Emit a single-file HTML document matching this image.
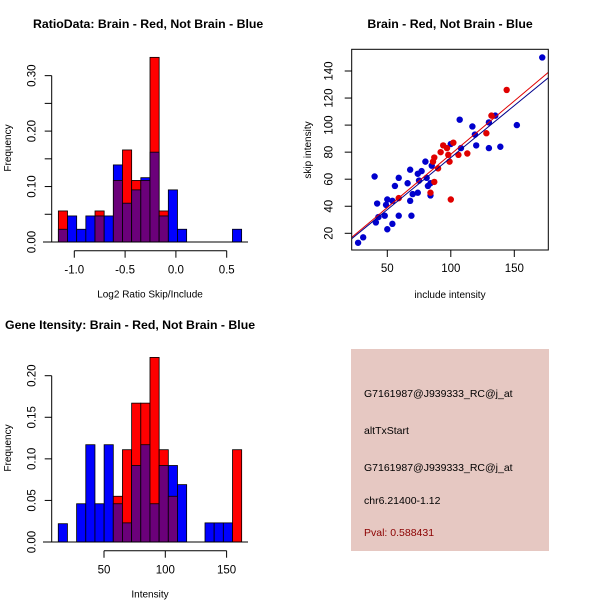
<!DOCTYPE html>
<html><head><meta charset="utf-8"><style>
html,body{margin:0;padding:0;background:#fff;width:600px;height:600px;overflow:hidden}
svg{display:block;font-family:"Liberation Sans",sans-serif}
</style></head><body>
<svg id="root" width="600" height="600" viewBox="0 0 600 600">
<rect width="600" height="600" fill="#fff"/>
<g id="p1"></g>
<g id="p2"></g>
<g id="p3"></g>
<g id="p4">
<rect x="351" y="349" width="198" height="202" fill="#e6c8c2"/>
<text x="364" y="397" font-size="10.5" fill="#000">G7161987@J939333_RC@j_at</text>
<text x="364" y="434" font-size="10.5" fill="#000">altTxStart</text>
<text x="364" y="471" font-size="10.5" fill="#000">G7161987@J939333_RC@j_at</text>
<text x="364" y="504" font-size="10.5" fill="#000">chr6.21400-1.12</text>
<text x="364" y="536" font-size="10.5" fill="#8b0000">Pval: 0.588431</text>
</g>
</svg>
<script>
// Ratio histogram data
const ratioStart = -1.157, ratioWidth = 0.0902;
const ratioRed  = [0.056,0,0,0,0.056,0,0.111,0.166,0.111,0.111,0.333,0.056,0,0,0,0,0,0,0,0];
const ratioBlue = [0.023,0.047,0.023,0.047,0.047,0.047,0.139,0.070,0.094,0.116,0.162,0.047,0.094,0.023,0,0,0,0,0,0.023];
const ratioYTicks = [0,0.05,0.10,0.15,0.20,0.25,0.30];
const ratioYLabels = ["0.00","","0.10","","0.20","","0.30"];
const ratioXTicks = [-1.0,-0.5,0.0,0.5];
const ratioXLabels = ["-1.0","-0.5","0.0","0.5"];
// Intensity histogram data
const intStart = 12.7, intWidth = 7.48;
const intRed  = [0,0,0,0,0,0,0.055,0.111,0.167,0.167,0.222,0.111,0.055,0,0,0,0,0,0,0.111];
const intBlue = [0.022,0,0.046,0.117,0.046,0.117,0.046,0.023,0.092,0.117,0.046,0.092,0.092,0.069,0,0,0.023,0.023,0.023,0];
const intYTicks = [0,0.05,0.10,0.15,0.20];
const intYLabels = ["0.00","0.05","0.10","0.15","0.20"];
const intXTicks = [50,100,150];
// Scatter data
const blueX = [27,31,40,41,42,43,48,49,50,50,54,54,56,59,59,66,68,68,69,70,74,74,75,77,80,81,82,84,84,85,100,107,108,117,119,120,130,130,135,139,152,172];
const blueY = [13,17,62,28,42,32,33,41,45,23,27,44,55,61,33,57,67,44,33,49,64,50,59,66,73,61,55,48,57,70,86,104,83,99,93,85,102,83,107,84,100,150];
const redX = [59,84,86,87,87,90,92,94,97,98,99,100,102,106,113,128,132,144];
const redY = [46,50,73,76,58,68,80,85,83,78,73,45,87,78,79,94,107,126];
const blueFit = [-0.92, 0.769];
const redFit = [-0.35, 0.788];
const scX = [50,100,150];
const scY = [20,40,60,80,100,120,140];

const NS="http://www.w3.org/2000/svg";
function mk(parent,tag,attrs,txt){const e=document.createElementNS(NS,tag);for(const k in attrs)e.setAttribute(k,attrs[k]);if(txt!==undefined)e.textContent=txt;parent.appendChild(e);return e;}

function hist(g,o){
  const sx=v=>o.x0+(v-o.xv0)*o.xs, sy=v=>o.y0-v*o.ys;
  for(let i=0;i<o.red.length;i++){
    const r=o.red[i], b=o.blue[i];
    const l=sx(o.start+i*o.w), wpx=o.w*o.xs;
    const hi=Math.max(r,b), lo=Math.min(r,b);
    if(hi>0){
      const c=r>=b?"#ff0000":"#0000ff";
      const e=mk(g,"rect",{x:l,y:sy(hi),width:wpx,height:sy(0)-sy(hi),fill:c,stroke:"#000","stroke-width":0.8});
      
      
    }
    if(lo>0){
      const e=mk(g,"rect",{x:l,y:sy(lo),width:wpx,height:sy(0)-sy(lo),fill:"#6b007a",stroke:"#000","stroke-width":0.8});
      
      
    }
  }
  mk(g,"line",{x1:o.bx1,x2:o.bx2,y1:o.y0,y2:o.y0,stroke:"#000"});
  const ya=mk(g,"g",{});
  
  
  const yt=o.yticks;
  mk(ya,"line",{x1:o.yax,x2:o.yax,y1:sy(yt[0]),y2:sy(yt[yt.length-1]),stroke:"#000"});
  yt.forEach((t,i)=>{mk(ya,"line",{x1:o.yax,x2:o.yax-7,y1:sy(t),y2:sy(t),stroke:"#000"});
    if(o.ylabels[i]){const tx=o.yax-16, ty=sy(t);mk(ya,"text",{x:tx,y:ty,"font-size":11.5,"text-anchor":"middle",transform:`rotate(-90 ${tx} ${ty})`},o.ylabels[i]);}});
  const xa=mk(g,"g",{});
  
  
  const xt=o.xticks;
  mk(xa,"line",{x1:sx(xt[0]),x2:sx(xt[xt.length-1]),y1:o.xay,y2:o.xay,stroke:"#000"});
  xt.forEach((t,i)=>{mk(xa,"line",{x1:sx(t),x2:sx(t),y1:o.xay,y2:o.xay+7,stroke:"#000"});
    mk(xa,"text",{x:sx(t),y:o.xay+23,"font-size":11.5,"text-anchor":"middle"},o.xlabels[i]);});
  const t1=mk(g,"text",{x:o.titleX,y:o.titleY,"font-size":12.3,"font-weight":"bold"},o.title);
  
  const t2=mk(g,"text",{x:o.xlabX,y:o.xay+47,"font-size":10,"text-anchor":"middle"},o.xlab);
  
  const t3=mk(g,"text",{x:11,y:o.ylabY,"font-size":10,"text-anchor":"middle",transform:`rotate(-90 11 ${o.ylabY})`},"Frequency");
  
}

hist(document.getElementById("p1"),{red:ratioRed,blue:ratioBlue,start:ratioStart,w:ratioWidth,
  x0:74.3,xv0:-1.0,xs:101.6,y0:242,ys:554.5,bx1:43,bx2:248,yax:51.7,xay:250.7,
  yticks:ratioYTicks,ylabels:ratioYLabels,xticks:ratioXTicks,xlabels:ratioXLabels,
  title:"RatioData: Brain - Red, Not Brain - Blue",titleX:33,titleY:28,xlab:"Log2 Ratio Skip/Include",xlabX:150,ylabY:148});

hist(document.getElementById("p3"),{red:intRed,blue:intBlue,start:intStart,w:intWidth,
  x0:104,xv0:50,xs:1.226,y0:542,ys:831.5,bx1:43,bx2:248,yax:51.7,xay:550.7,
  yticks:intYTicks,ylabels:intYLabels,xticks:intXTicks,xlabels:intXTicks.map(String),
  title:"Gene Itensity: Brain - Red, Not Brain - Blue",titleX:5,titleY:329,xlab:"Intensity",xlabX:150,ylabY:448});

// scatter
(function(){
  const g=document.getElementById("p2");
  const L=351.7,R=548.3,T=49.3,B=250;
  const sx=v=>387.3+(v-50)*1.27, sy=v=>233.3-(v-20)*1.3525;
  const ix=v=>50+(v-387.3)/1.27;
  const cp=mk(g,"clipPath",{id:"clip"});mk(cp,"rect",{x:L,y:T,width:R-L,height:B-T});
  const pts=mk(g,"g",{});
  blueX.forEach((x,i)=>{const c=mk(pts,"circle",{cx:sx(x),cy:sy(blueY[i]),r:3.2,fill:"#0000cd"});
    });
  redX.forEach((x,i)=>{const c=mk(pts,"circle",{cx:sx(x),cy:sy(redY[i]),r:3.2,fill:"#e00000"});
    });
  const xa=ix(L),xb=ix(R);
  const l1=mk(g,"line",{x1:L,x2:R,y1:sy(redFit[0]+redFit[1]*xa),y2:sy(redFit[0]+redFit[1]*xb),stroke:"#e00000","clip-path":"url(#clip)"});
  
  const l2=mk(g,"line",{x1:L,x2:R,y1:sy(blueFit[0]+blueFit[1]*xa),y2:sy(blueFit[0]+blueFit[1]*xb),stroke:"#00008b","clip-path":"url(#clip)"});
  
  const box=mk(g,"rect",{x:L,y:T,width:R-L,height:B-T,fill:"none",stroke:"#000"});
  
  scX.forEach(t=>{mk(g,"line",{x1:sx(t),x2:sx(t),y1:B,y2:B+7,stroke:"#000"});
    mk(g,"text",{x:sx(t),y:B+22,"font-size":11.5,"text-anchor":"middle"},String(t));});
  scY.forEach(t=>{mk(g,"line",{x1:L,x2:L-7,y1:sy(t),y2:sy(t),stroke:"#000"});
    const tx=L-19,ty=sy(t);mk(g,"text",{x:tx,y:ty,"font-size":11.5,"text-anchor":"middle",transform:`rotate(-90 ${tx} ${ty})`},String(t));});
  const t=mk(g,"text",{x:450,y:28,"font-size":12.3,"font-weight":"bold","text-anchor":"middle"},"Brain - Red, Not Brain - Blue");
  
  const xl=mk(g,"text",{x:450,y:298,"font-size":10,"text-anchor":"middle"},"include intensity");
  
  const yl=mk(g,"text",{x:311,y:150,"font-size":10,"text-anchor":"middle",transform:"rotate(-90 311 150)"},"skip intensity");
  
})();
</script>
</body></html>
